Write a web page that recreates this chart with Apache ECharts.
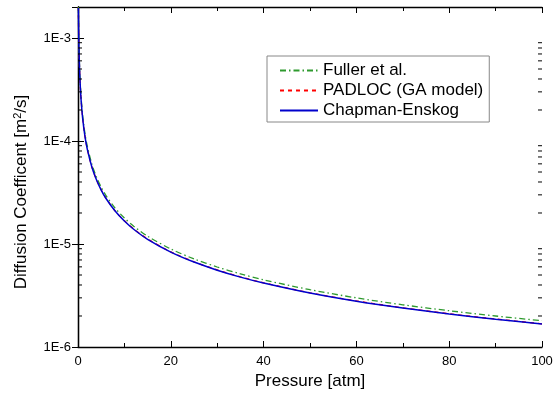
<!DOCTYPE html>
<html><head><meta charset="utf-8">
<script src="https://cdn.jsdelivr.net/npm/echarts@6/dist/echarts.min.js"></script>
<style>html,body{margin:0;padding:0;background:#fff}#c{width:560px;height:401px}</style>
</head><body><div id="c"></div>
<script>
const pressure = [0.08, 0.1, 0.15, 0.2, 0.3, 0.4, 0.5, 0.7, 1, 1.5, 2, 3, 4, 5, 6, 8, 10, 12, 15, 20, 25, 30, 35, 40, 50, 60, 70, 80, 90, 100];
const fuller = [2.0e-3, 1.75e-3, 1.17e-3, 8.8e-4, 5.9e-4, 4.4e-4, 3.52e-4, 2.52e-4, 1.77e-4, 1.18e-4, 8.9e-5, 5.93e-5, 4.45e-5, 3.56e-5, 2.97e-5, 2.23e-5, 1.79e-5, 1.49e-5, 1.19e-5, 8.95e-6, 7.17e-6, 5.98e-6, 5.13e-6, 4.49e-6, 3.6e-6, 3.0e-6, 2.57e-6, 2.25e-6, 2.0e-6, 1.8e-6];
const padloc = [2.0e-3, 1.68e-3, 1.12e-3, 8.4e-4, 5.6e-4, 4.2e-4, 3.36e-4, 2.4e-4, 1.68e-4, 1.12e-4, 8.4e-5, 5.6e-5, 4.2e-5, 3.36e-5, 2.8e-5, 2.1e-5, 1.68e-5, 1.4e-5, 1.12e-5, 8.4e-6, 6.72e-6, 5.6e-6, 4.8e-6, 4.2e-6, 3.36e-6, 2.8e-6, 2.4e-6, 2.1e-6, 1.87e-6, 1.68e-6];
const chapman = [1.96e-3, 1.67e-3, 1.11e-3, 8.35e-4, 5.57e-4, 4.18e-4, 3.34e-4, 2.39e-4, 1.67e-4, 1.11e-4, 8.35e-5, 5.57e-5, 4.18e-5, 3.34e-5, 2.78e-5, 2.09e-5, 1.67e-5, 1.39e-5, 1.11e-5, 8.35e-6, 6.68e-6, 5.57e-6, 4.77e-6, 4.18e-6, 3.34e-6, 2.78e-6, 2.39e-6, 2.09e-6, 1.86e-6, 1.67e-6];
const seriesNames = ['Fuller et al.', 'PADLOC (GA model)', 'Chapman-Enskog'];
const yMinorTicks = [2e-6,3e-6,4e-6,5e-6,6e-6,7e-6,8e-6,9e-6,2e-5,3e-5,4e-5,5e-5,6e-5,7e-5,8e-5,9e-5,2e-4,3e-4,4e-4,5e-4,6e-4,7e-4,8e-4,9e-4];

const font = 'Liberation Sans, Arial, sans-serif';
const zip = (xs, ys) => xs.map((x, i) => [x, ys[i]]);
const chart = echarts.init(document.getElementById('c'));
const axisLine = {show: true, lineStyle: {color: '#000', width: 1.3}};
chart.setOption({
  animation: false,
  backgroundColor: '#fff',
  textStyle: {fontFamily: font, color: '#000'},
  grid: {left: 78, right: 18, top: 7, bottom: 54},
  legend: {
    data: seriesNames, orient: 'vertical', left: 267, top: 56,
    padding: [6, 6, 3, 12], itemGap: 3, itemWidth: 38, itemHeight: 14,
    borderColor: '#888', borderWidth: 1,
    itemStyle: {opacity: 0},
    textStyle: {fontFamily: font, fontSize: 17, lineHeight: 17, color: '#000'}
  },
  xAxis: [{
    type: 'value', min: 0, max: 100, interval: 20, position: 'bottom',
    name: 'Pressure [atm]', nameLocation: 'middle', nameGap: 24,
    nameTextStyle: {fontFamily: font, fontSize: 17, color: '#000'},
    axisLine, splitLine: {show: false},
    axisTick: {inside: true, length: 6, lineStyle: {color: '#000'}},
    minorTick: {show: true, splitNumber: 2, length: 4, lineStyle: {color: '#000'}},
    axisLabel: {fontFamily: font, fontSize: 13, color: '#000', margin: 8}
  }, {
    type: 'value', min: 0, max: 100, interval: 20, position: 'top',
    axisLine, splitLine: {show: false},
    axisTick: {inside: true, length: 6, lineStyle: {color: '#000'}},
    minorTick: {show: true, splitNumber: 2, length: 4, lineStyle: {color: '#000'}},
    axisLabel: {show: false}
  }],
  yAxis: [{
    type: 'log', logBase: 10, min: 1e-6, max: 2e-3, position: 'left',
    name: 'Diffusion Coefficent [m{sup|2}/s]', nameLocation: 'middle', nameGap: 47,
    nameTextStyle: {fontFamily: font, fontSize: 17, color: '#000', padding: [0, 30, 0, 0],
      rich: {sup: {fontFamily: font, fontSize: 11, color: '#000', verticalAlign: 'bottom', padding: [0, 0, 8, 0]}}},
    axisLine, splitLine: {show: false},
    axisTick: {inside: true, length: 6, lineStyle: {color: '#000'}},
    axisLabel: {fontFamily: font, fontSize: 13, color: '#000', margin: 7, showMaxLabel: false,
      formatter: v => '1E' + Math.round(Math.log10(v))}
  }, {
    type: 'log', logBase: 10, min: 1e-6, max: 2e-3, position: 'right',
    axisLine, splitLine: {show: false},
    axisTick: {inside: true, length: 6, lineStyle: {color: '#000'}},
    axisLabel: {show: false}
  }],
  series: [{
    name: seriesNames[0], type: 'line', data: zip(pressure, fuller), symbol: 'none', smooth: 0.3,
    color: '#2e9a2e', lineStyle: {color: '#2e9a2e', width: 1.3, type: [6, 3, 1.5, 3]}, z: 3
  }, {
    name: seriesNames[1], type: 'line', data: zip(pressure, padloc), symbol: 'none', smooth: 0.3,
    color: '#ff0000', lineStyle: {color: '#ff0000', width: 1.3, type: [4, 4]}, z: 2
  }, {
    name: seriesNames[2], type: 'line', data: zip(pressure, chapman), symbol: 'none', smooth: 0.3,
    color: '#0000cc', lineStyle: {color: '#0000cc', width: 1.5}, z: 4
  }, {
    type: 'custom', silent: true, z: 5,
    data: yMinorTicks.map(v => [0, v]),
    renderItem: (params, api) => {
      const v = api.value(1);
      const l = api.coord([0, v]);
      const r = api.coord([100, v]);
      return {type: 'group', children: [
        {type: 'line', shape: {x1: l[0], y1: l[1], x2: l[0] + 4, y2: l[1]}, style: {stroke: '#000', lineWidth: 1}},
        {type: 'line', shape: {x1: r[0], y1: r[1], x2: r[0] - 4, y2: r[1]}, style: {stroke: '#000', lineWidth: 1}}
      ]};
    }
  }]
});
</script></body></html>
